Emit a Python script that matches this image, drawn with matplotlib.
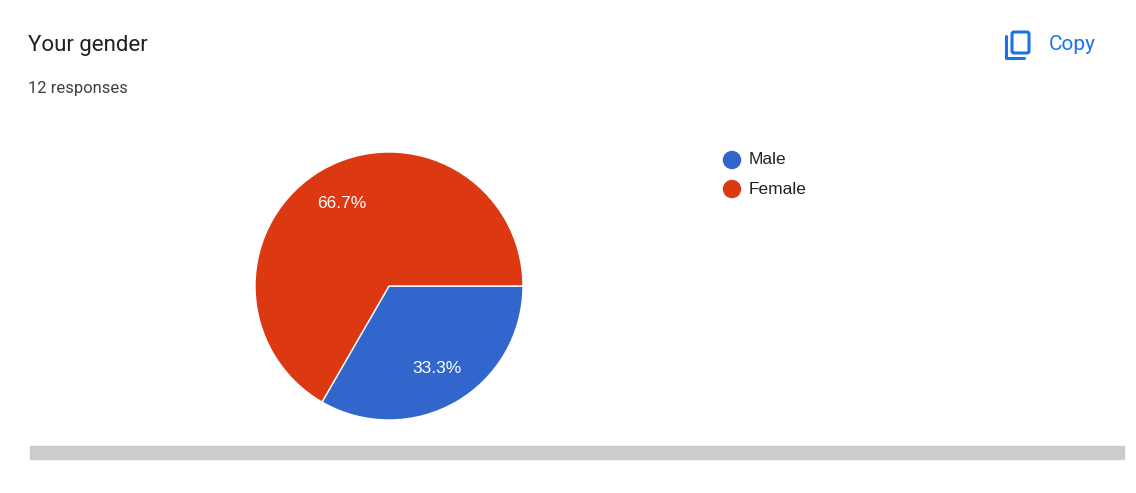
import matplotlib
matplotlib.use("Agg")
import matplotlib.pyplot as plt
from matplotlib.patches import Rectangle, FancyBboxPatch, Circle

labels = ["Male", "Female"]
values = [4, 8]
colors = ["#3366cc", "#dc3912"]

W, H = 1136, 493
fig = plt.figure(figsize=(W/100, H/100), dpi=100)
fig.patch.set_facecolor("white")

def fx(x): return x / W
def fy(y): return 1 - y / H

fig.text(fx(28), fy(45), "Your gender", fontsize=16, color="#202124", va="center", family="Roboto")
fig.text(fx(28), fy(88), "12 responses", fontsize=12, color="#3c4043", va="center", family="Roboto")
fig.text(fx(1049), fy(44), "Copy", fontsize=15, color="#1a73e8", va="center", family="Roboto")

ov = fig.add_axes([0, 0, 1, 1], zorder=-1)
ov.set_xlim(0, W); ov.set_ylim(H, 0); ov.axis("off")
ov.add_patch(FancyBboxPatch((1012, 32), 17, 21, boxstyle="round,pad=0,rounding_size=2",
                            fill=False, ec="#1a73e8", lw=2.2))
ov.plot([1006, 1006, 1024], [36, 58, 58], color="#1a73e8", lw=2.2, solid_capstyle="round")
ov.add_patch(Rectangle((30, 446), 1094, 13, color="#cccccc"))

cx, cy, r = 389, 286, 134
ax = fig.add_axes([fx(cx - r), fy(cy + r), 2*r/W, 2*r/H])
ax.pie(values, colors=colors, startangle=0, counterclock=False,
       autopct="%.1f%%", pctdistance=0.71,
       wedgeprops=dict(edgecolor="white", linewidth=1),
       textprops=dict(color="white", fontsize=12.5, family="Liberation Sans"))
ax.set_xlim(-1, 1); ax.set_ylim(-1, 1)
ax.set_aspect("equal")

for i, (lab, c) in enumerate(zip(labels, colors)):
    y = 160 + i * 29
    ov.add_patch(Circle((732, y), 8.5, color=c))
    ov.text(749, y, lab, fontsize=12.5, va="center", color="#222222", family="Liberation Sans")

fig.savefig("out.png", dpi=100)
